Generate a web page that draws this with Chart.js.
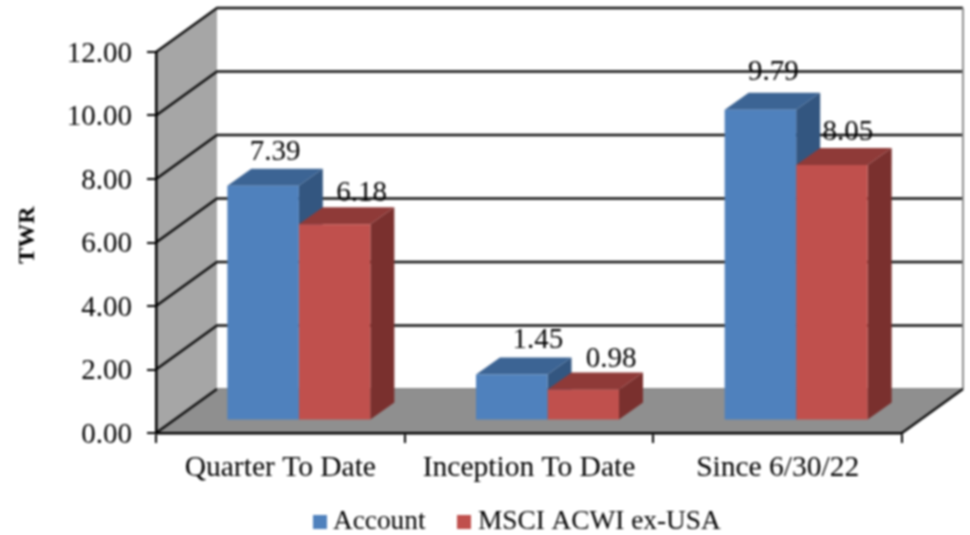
<!DOCTYPE html>
<html><head><meta charset="utf-8">
<style>html,body{margin:0;padding:0;background:#fff}canvas{display:block;filter:blur(0.8px)}</style>
<script src="https://cdn.jsdelivr.net/npm/chart.js@4"></script>
</head><body>
<canvas id="c" width="970" height="535"></canvas>
<script>
const categories = ["Quarter To Date", "Inception To Date", "Since 6/30/22"];
const accountValues = [7.39, 1.45, 9.79];
const benchmarkValues = [6.18, 0.98, 8.05];
const seriesNames = ["Account", "MSCI ACWI ex-USA"];
const yTickValues = [0, 2, 4, 6, 8, 10, 12];
const axisTitle = "TWR";

const SERIF = '"Liberation Serif","Times New Roman",serif';
const INK = '#000';
const WALL = {dx: 61, dy: 44, side: '#a6a6a6', floor: '#8f8f8f', line: '#111111'};
const BAR = {shiftX: 18.5, shiftY: 12.5, depthX: 24, depthY: 17};
const SHADES = [
  {front: '#4f81bd', top: '#3c6494', side: '#335680'},
  {front: '#c0504d', top: '#8f3a38', side: '#7a302e'}
];
// hand-placed label nudges relative to the bar's back top edge: [series][category]
const LABEL_NUDGE = [
  [[12, -16], [26, -17], [13, -20]],
  [[27, -14], [28, -13], [16, -16]]
];
const LEGEND_POS = [{box: 313, text: 333}, {box: 457, text: 478}];

function poly(ctx, pts, fill) {
  ctx.beginPath();
  pts.forEach((p, i) => i ? ctx.lineTo(p[0], p[1]) : ctx.moveTo(p[0], p[1]));
  ctx.closePath();
  ctx.fillStyle = fill;
  ctx.fill();
}

const bar3d = {
  id: 'bar3d',
  beforeDraw(chart) {
    const {ctx, chartArea: a, scales: {y}} = chart;
    const {dx, dy} = WALL;
    ctx.save();
    poly(ctx, [[a.left, a.bottom], [a.left + dx, a.bottom - dy], [a.left + dx, a.top - dy], [a.left, a.top]], WALL.side);
    poly(ctx, [[a.left, a.bottom], [a.left + dx, a.bottom - dy], [a.right + dx, a.bottom - dy], [a.right, a.bottom]], WALL.floor);
    ctx.strokeStyle = WALL.line;
    ctx.lineWidth = 2.5;
    yTickValues.forEach(v => {
      const py = y.getPixelForValue(v);
      ctx.beginPath();
      ctx.moveTo(a.left, py);
      ctx.lineTo(a.left + dx, py - dy);
      if (v > 0) ctx.lineTo(a.right + dx, py - dy);
      ctx.stroke();
    });
    ctx.lineWidth = 2;
    ctx.strokeStyle = '#8c8c8c';
    ctx.beginPath();
    ctx.moveTo(a.left + dx, a.bottom - dy);
    ctx.lineTo(a.right + dx, a.bottom - dy);
    ctx.stroke();
    ctx.beginPath();
    ctx.moveTo(a.right + dx, a.top - dy);
    ctx.lineTo(a.right + dx, a.bottom - dy);
    ctx.stroke();
    ctx.strokeStyle = WALL.line;
    ctx.lineWidth = 2.5;
    ctx.beginPath();
    ctx.moveTo(a.right, a.bottom);
    ctx.lineTo(a.right + dx, a.bottom - dy);
    ctx.stroke();
    ctx.restore();
  },
  beforeDatasetsDraw(chart) {
    const {ctx} = chart;
    ctx.save();
    ctx.translate(BAR.shiftX, -BAR.shiftY);
    // tops and sides, blue first so the red ones lie over the blue side faces
    chart.data.datasets.forEach((ds, i) => {
      chart.getDatasetMeta(i).data.forEach(el => {
        const l = el.x - el.width / 2, r = el.x + el.width / 2;
        const t = el.y, b = el.base;
        const {depthX: ox, depthY: oy} = BAR;
        poly(ctx, [[r, t], [r + ox, t - oy], [r + ox, b - oy], [r, b]], SHADES[i].side);
        poly(ctx, [[l, t], [l + ox, t - oy], [r + ox, t - oy], [r, t]], SHADES[i].top);
      });
    });
  },
  afterDatasetsDraw(chart) {
    const {ctx} = chart;
    ctx.restore();
    ctx.save();
    ctx.font = '29px ' + SERIF;
    ctx.fillStyle = INK;
    ctx.textAlign = 'center';
    ctx.textBaseline = 'middle';
    chart.data.datasets.forEach((ds, i) => {
      chart.getDatasetMeta(i).data.forEach((el, j) => {
        const [nx, ny] = LABEL_NUDGE[i][j];
        ctx.fillText(ds.data[j].toFixed(2),
          el.x + BAR.shiftX + nx,
          el.y - BAR.shiftY - BAR.depthY + ny);
      });
    });
    ctx.restore();
  },
  afterDraw(chart) {
    const {ctx} = chart;
    ctx.save();
    ctx.textBaseline = 'middle';
    ctx.textAlign = 'left';
    ctx.font = '27.3px ' + SERIF;
    chart.data.datasets.forEach((ds, i) => {
      ctx.fillStyle = SHADES[i].front;
      ctx.fillRect(LEGEND_POS[i].box, 515, 14, 14);
      ctx.fillStyle = INK;
      ctx.fillText(ds.label, LEGEND_POS[i].text, 522);
    });
    ctx.translate(28, 235);
    ctx.rotate(-Math.PI / 2);
    ctx.textAlign = 'center';
    ctx.font = 'bold 24px ' + SERIF;
    ctx.fillText(axisTitle, 0, 0);
    ctx.restore();
  }
};

new Chart(document.getElementById('c'), {
  type: 'bar',
  data: {
    labels: categories,
    datasets: [
      {label: seriesNames[0], data: accountValues, backgroundColor: SHADES[0].front, clip: false},
      {label: seriesNames[1], data: benchmarkValues, backgroundColor: SHADES[1].front, clip: false}
    ]
  },
  plugins: [bar3d],
  options: {
    responsive: false,
    animation: false,
    layout: {padding: {top: 52, right: 68, bottom: 0, left: 0}},
    categoryPercentage: 0.575,
    barPercentage: 1,
    plugins: {legend: {display: false}, tooltip: {enabled: false}},
    scales: {
      x: {
        afterFit(s) { s.height = 102; },
        border: {color: '#000', width: 2.5},
        grid: {drawOnChartArea: false, color: '#000', tickLength: 10, lineWidth: 2},
        ticks: {color: INK, font: {family: SERIF, size: 29.5}, padding: 8, autoSkip: false, maxRotation: 0}
      },
      y: {
        min: 0, max: 12,
        afterFit(s) { s.width = 156; },
        afterBuildTicks(s) { s.ticks = yTickValues.map(v => ({value: v})); },
        border: {color: '#000', width: 2.5},
        grid: {drawOnChartArea: false, color: '#000', tickLength: 9, lineWidth: 2},
        ticks: {color: INK, font: {family: SERIF, size: 29}, padding: 15, labelOffset: 2, callback: v => v.toFixed(2)}
      }
    }
  }
});
</script>
</body></html>
